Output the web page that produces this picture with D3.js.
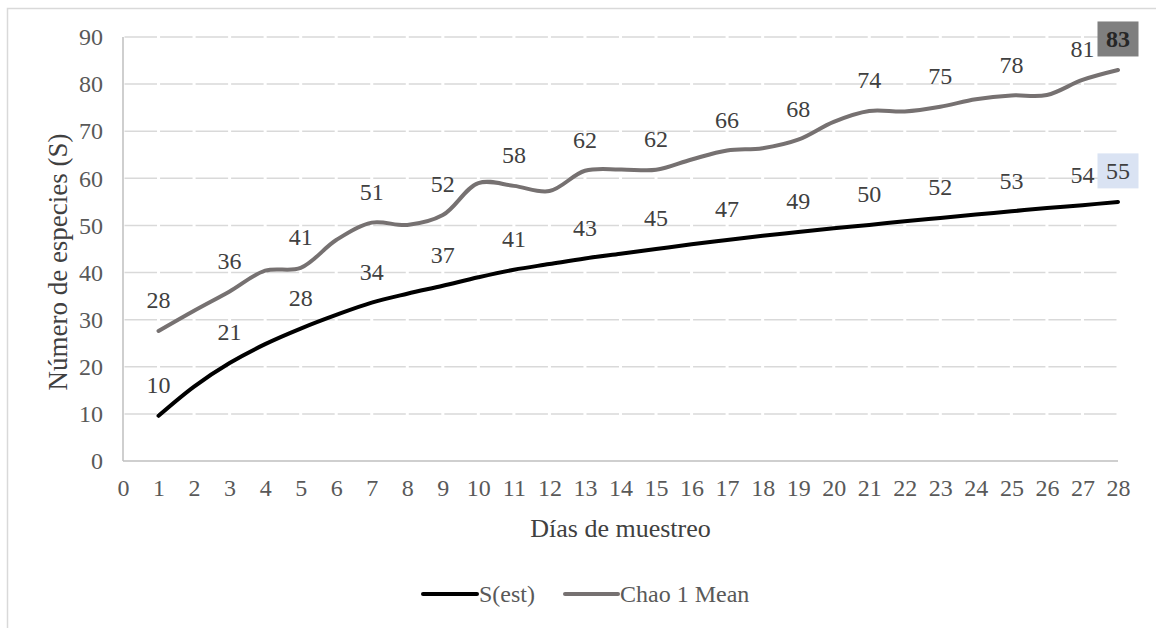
<!DOCTYPE html>
<html>
<head>
<meta charset="utf-8">
<script src="https://cdn.jsdelivr.net/npm/d3@7"></script>
<style>
  html, body { margin: 0; padding: 0; background: #fff; }
  svg { display: block; }
  svg text { font-family: "Liberation Serif", "Times New Roman", serif !important; }
</style>
</head>
<body>
<svg id="chart" width="1156" height="628"></svg>
<script>
// ---- data ----
const days = [1,2,3,4,5,6,7,8,9,10,11,12,13,14,15,16,17,18,19,20,21,22,23,24,25,26,27,28];
const sEst = [9.6,15.8,20.8,24.8,28.1,31.0,33.6,35.5,37.2,39.0,40.6,41.8,43.0,44.0,45.0,46.0,46.9,47.8,48.6,49.4,50.1,50.9,51.6,52.3,53.0,53.7,54.3,55.0];
const chao1 = [27.6,31.9,36.0,40.4,41.0,46.9,50.6,50.1,52.2,59.0,58.4,57.3,61.6,61.9,61.8,64.0,65.9,66.4,68.2,72.0,74.3,74.2,75.2,76.8,77.6,77.7,80.9,83.0];
const labelDays = [1,3,5,7,9,11,13,15,17,19,21,23,25,27,28];
const xTicks = d3.range(0, 29);
const yTicks = [0,10,20,30,40,50,60,70,80,90];
const seriesNames = ["S(est)", "Chao 1 Mean"];

// ---- layout ----
const FONT = "Liberation Serif, Times New Roman, serif";
const svg = d3.select("#chart").style("font-family", FONT);
const x = d3.scaleLinear().domain([0, 28]).range([123, 1118]);
const y = d3.scaleLinear().domain([0, 90]).range([461, 37]);

// chart border
svg.append("rect").attr("x", 7.5).attr("y", 8.5).attr("width", 1170).attr("height", 700)
  .attr("fill", "none").attr("stroke", "#d9d9d9").attr("stroke-width", 1.5);

// gridlines (dashed with gaps at each day)
const step = x(1) - x(0);
svg.append("g").selectAll("line").data(yTicks.filter(d => d > 0)).join("line")
  .attr("x1", x(0)).attr("x2", x(28))
  .attr("y1", d => y(d)).attr("y2", d => y(d))
  .attr("stroke", "#d9d9d9").attr("stroke-width", 1.5)
  .attr("stroke-dasharray", `${step - 3},3`).attr("stroke-dashoffset", -1.5);

// axes lines
svg.append("line").attr("x1", x(0)).attr("x2", x(0)).attr("y1", y(90)).attr("y2", y(0))
  .attr("stroke", "#bfbfbf").attr("stroke-width", 1.5);
svg.append("line").attr("x1", x(0)).attr("x2", x(28)).attr("y1", y(0)).attr("y2", y(0))
  .attr("stroke", "#bfbfbf").attr("stroke-width", 1.5);

// y tick labels
const yAxis = d3.axisLeft(y).tickValues(yTicks).tickSize(0).tickPadding(20);
const gy = svg.append("g").attr("transform", `translate(${x(0)},0)`).call(yAxis)
  .attr("font-family", null).attr("font-size", null);
gy.select(".domain").remove();
gy.selectAll("text").style("font-family", FONT).style("font-size", "24px").attr("fill", "#595959");

// x tick labels
const xAxis = d3.axisBottom(x).tickValues(xTicks).tickSize(0).tickPadding(18).tickFormat(d3.format("d"));
const gx = svg.append("g").attr("transform", `translate(0,${y(0)})`).call(xAxis)
  .attr("font-family", null).attr("font-size", null);
gx.select(".domain").remove();
gx.selectAll("text").style("font-family", FONT).style("font-size", "24px").attr("fill", "#595959");

// axis titles
svg.append("text").attr("x", (x(0) + x(28)) / 2).attr("y", 537).attr("text-anchor", "middle")
  .style("font-family", FONT).style("font-size", "26px").attr("fill", "#404040").text("Días de muestreo");
svg.append("text").attr("transform", `translate(67,262) rotate(-90)`)
  .attr("text-anchor", "middle").style("font-family", FONT).style("font-size", "27px").attr("fill", "#404040")
  .text("Número de especies (S)");

// lines
const line = d3.line().x((d, i) => x(days[i])).y(d => y(d)).curve(d3.curveCatmullRom.alpha(0.5));
svg.append("path").datum(chao1).attr("d", line).attr("fill", "none")
  .attr("stroke", "#767171").attr("stroke-width", 4).attr("stroke-linecap", "round");
svg.append("path").datum(sEst).attr("d", line).attr("fill", "none")
  .attr("stroke", "#000").attr("stroke-width", 4).attr("stroke-linecap", "round");

// data labels
function drawLabels(values, highlight) {
  const g = svg.append("g");
  labelDays.forEach(dday => {
    const v = values[days.indexOf(dday)];
    const cx = x(dday), cy = y(v) - 31;
    const isLast = dday === 28;
    if (isLast) {
      g.append("rect").attr("x", cx - 20.5).attr("y", cy - 17.5).attr("width", 41).attr("height", 35)
        .attr("fill", highlight.fill);
    }
    g.append("text").attr("x", cx).attr("y", cy).attr("dy", "0.35em").attr("text-anchor", "middle")
      .style("font-family", FONT).style("font-size", "24px")
      .attr("font-weight", isLast && highlight.bold ? "bold" : "normal")
      .attr("fill", isLast ? highlight.text : "#404040")
      .text(d3.format(".0f")(v));
  });
}
drawLabels(sEst, { fill: "#dae3f3", text: "#404040", bold: false });
drawLabels(chao1, { fill: "#7f7f7f", text: "#262626", bold: true });

// legend
const legend = [
  { name: seriesNames[0], color: "#000", x1: 423, x2: 477, tx: 479 },
  { name: seriesNames[1], color: "#767171", x1: 565, x2: 618, tx: 620 }
];
const lg = svg.append("g");
legend.forEach(l => {
  lg.append("line").attr("x1", l.x1).attr("x2", l.x2).attr("y1", 594).attr("y2", 594)
    .attr("stroke", l.color).attr("stroke-width", 4).attr("stroke-linecap", "round");
  lg.append("text").attr("x", l.tx).attr("y", 594).attr("dy", "0.35em")
    .style("font-family", FONT).style("font-size", "24px").attr("fill", "#595959").text(l.name);
});
</script>
</body>
</html>
